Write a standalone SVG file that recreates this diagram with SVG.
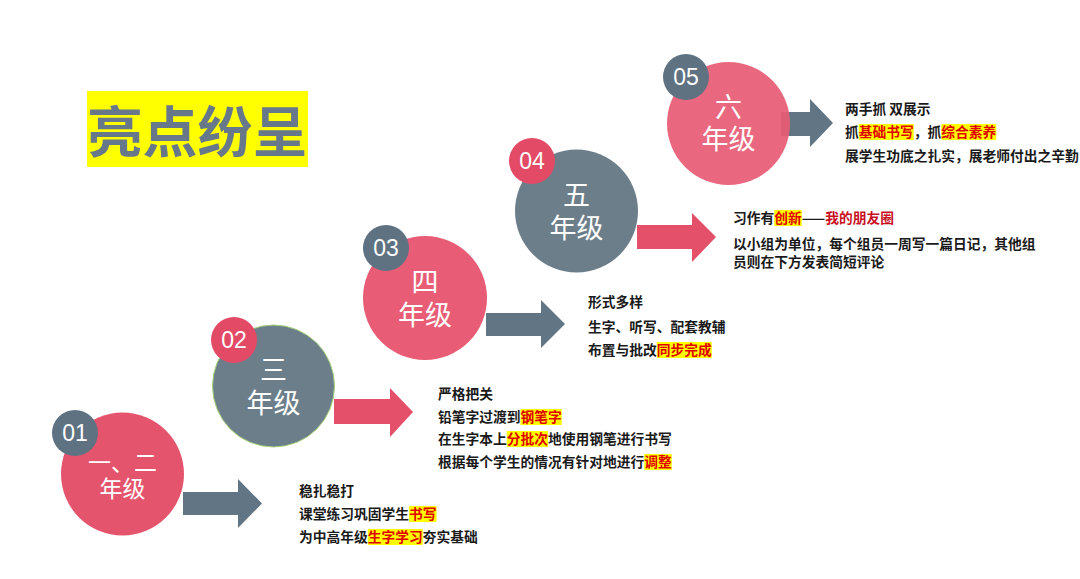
<svg xmlns="http://www.w3.org/2000/svg" width="1080" height="579" viewBox="0 0 1080 579">
<style>
.pk{fill:#E5546D}
.gy{fill:#6D7E8B}
.bpk{fill:#E34A65}
.bgy{fill:#5F7282}
.apk{fill:#E44F69}
.agy{fill:#627585}
.lbl{font-family:"Liberation Sans","Noto Sans CJK SC",sans-serif;font-size:27px;fill:#fff;text-anchor:middle}
.lbl.sm{font-size:23px}
.num{font-family:"Liberation Sans",Arial,sans-serif;font-size:23px;fill:#fff;text-anchor:middle}
.txt{font-family:"Noto Sans CJK SC",sans-serif;font-size:13.75px;font-weight:bold;fill:#1a1a1a}
.hl{fill:#FFFF00}
.red{fill:#E00000}
.dred{fill:#C8101E}
</style>
<rect width="1080" height="579" fill="#fff"/>

<g id="title">
<rect x="87" y="91" width="221" height="76" fill="#FFFF00"/>
<text x="197.5" y="152" font-family="'Noto Sans CJK SC',sans-serif" font-size="55" font-weight="bold" fill="#66788A" text-anchor="middle">亮点纷呈</text>
</g>

<g id="connectors">
<polygon class="agy" points="183,492 238,492 238,479 262,503.5 238,528 238,515 183,515"/>
<polygon class="apk" points="334,399 390,399 390,388 413,412 390,437 390,424 334,424"/>
<polygon class="agy" points="486,313 541,313 541,300 565,324 541,348 541,336 486,336"/>
<polygon class="apk" points="637,225 692,225 692,213 716,237 692,262 692,249 637,249"/>
<polygon class="agy" points="781,112 810,112 810,99 833,123 810,147 810,136 781,136"/>
</g>

<g id="node-grade12">
<circle class="pk" cx="122.5" cy="474" r="61.5"/>
<circle class="bgy" cx="75" cy="433" r="23"/>
<text class="num" x="75" y="441">01</text>
<text class="lbl sm"><tspan x="122.5" y="471">一、二</tspan><tspan x="122.5" y="497">年级</tspan></text>
</g>

<g id="node-grade3">
<circle class="gy" cx="273.5" cy="386" r="61" stroke="#A5D47A" stroke-width="1"/>
<circle class="bpk" cx="234" cy="340" r="23"/>
<text class="num" x="234" y="348">02</text>
<text class="lbl"><tspan x="273.5" y="380">三</tspan><tspan x="273.5" y="413">年级</tspan></text>
</g>

<g id="node-grade4">
<circle cx="425" cy="298" r="62" fill="#E85D75"/>
<circle class="bgy" cx="386" cy="248" r="23"/>
<text class="num" x="386" y="256">03</text>
<text class="lbl"><tspan x="425" y="292">四</tspan><tspan x="425" y="325">年级</tspan></text>
</g>

<g id="node-grade5">
<circle class="gy" cx="576.5" cy="211" r="61.5"/>
<circle class="bpk" cx="532" cy="161" r="23"/>
<text class="num" x="532" y="169">04</text>
<text class="lbl"><tspan x="576.5" y="205">五</tspan><tspan x="576.5" y="238">年级</tspan></text>
</g>

<g id="node-grade6">
<circle cx="728.5" cy="123.5" r="61.5" fill="#E85D75" fill-opacity="0.93"/>
<circle class="bgy" cx="686" cy="77" r="23"/>
<text class="num" x="686" y="85">05</text>
<text class="lbl"><tspan x="728.5" y="117">六</tspan><tspan x="728.5" y="149">年级</tspan></text>
</g>

<g id="text-grade12">
<rect class="hl" x="409" y="506" width="27.5" height="16"/>
<rect class="hl" x="367.75" y="529" width="55" height="16"/>
<text class="txt" x="299" y="496">稳扎稳打</text>
<text class="txt" x="299" y="519">课堂练习巩固学生<tspan class="red">书写</tspan></text>
<text class="txt" x="299" y="542">为中高年级<tspan class="red">生字学习</tspan>夯实基础</text>
</g>

<g id="text-grade3">
<rect class="hl" x="520.5" y="409" width="41.25" height="16"/>
<rect class="hl" x="506.75" y="431" width="41.25" height="16"/>
<rect class="hl" x="644.25" y="454" width="27.5" height="16"/>
<text class="txt" x="438" y="399">严格把关</text>
<text class="txt" x="438" y="422">铅笔字过渡到<tspan class="red">钢笔字</tspan></text>
<text class="txt" x="438" y="444">在生字本上<tspan class="red">分批次</tspan>地使用钢笔进行书写</text>
<text class="txt" x="438" y="467">根据每个学生的情况有针对地进行<tspan class="red">调整</tspan></text>
</g>

<g id="text-grade4">
<rect class="hl" x="656.75" y="342" width="55" height="16"/>
<text class="txt" x="588" y="307">形式多样</text>
<text class="txt" x="588" y="332">生字、听写、配套教辅</text>
<text class="txt" x="588" y="355">布置与批改<tspan class="red">同步完成</tspan></text>
</g>

<g id="text-grade5">
<rect class="hl" x="774.25" y="210" width="27.5" height="16"/>
<text class="txt" x="733" y="223">习作有<tspan class="red">创新</tspan>——<tspan class="dred">我的朋友圈</tspan></text>
<text class="txt" x="733" y="249">以小组为单位，每个组员一周写一篇日记，其他组</text>
<text class="txt" x="733" y="267">员则在下方发表简短评论</text>
</g>

<g id="text-grade6">
<rect class="hl" x="858.75" y="124" width="55" height="16"/>
<rect class="hl" x="941.25" y="124" width="55" height="16"/>
<text class="txt" x="845" y="114">两手抓 双展示</text>
<text class="txt" x="845" y="137">抓<tspan class="red">基础书写</tspan>，抓<tspan class="red">综合素养</tspan></text>
<text class="txt" x="845" y="161">展学生功底之扎实，展老师付出之辛勤</text>
</g>
</svg>
